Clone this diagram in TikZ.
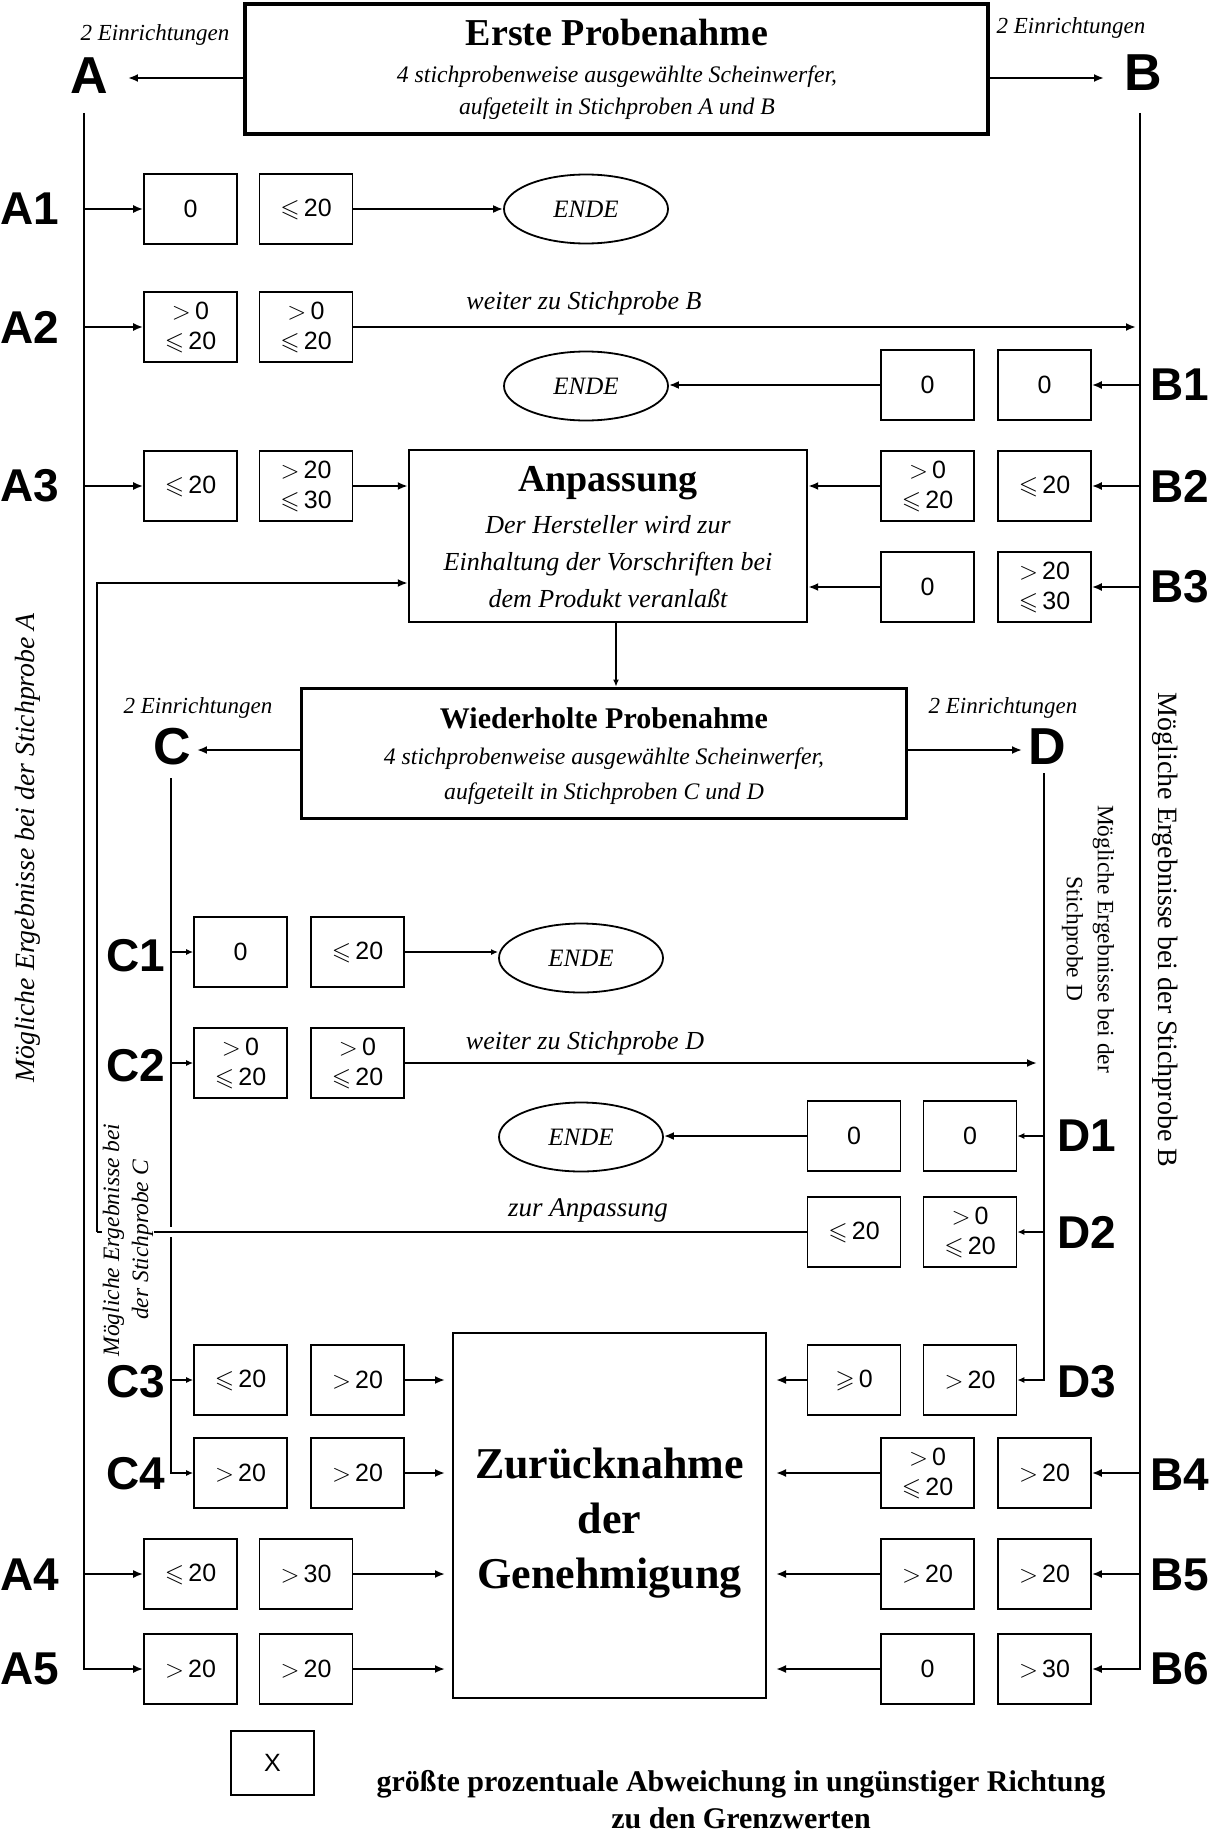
\documentclass[tikz,border=0pt]{standalone}
\usepackage{amssymb}
\usepackage{fontspec}
\setmainfont{Liberation Serif}
\setsansfont{Liberation Sans}
\usetikzlibrary{arrows.meta,shapes.geometric}
\pgfdeclarelayer{bg}
\pgfdeclarelayer{paper}
\pgfsetlayers{paper,bg,main}
\newcommand\fsz[2]{\fontsize{#1}{#2}\selectfont}
\newcommand\myle{$\leqslant$\,}
\newcommand\myge{$\geqslant$\,}
\newcommand\mygt{$>$\,}
\tikzset{
  vb/.style={draw, line width=1.6pt, minimum width=93pt, minimum height=70pt, inner sep=0pt, align=center, font=\sffamily\fsz{25}{30}},
  endnode/.style={ellipse, draw, line width=1.8pt, minimum width=164pt, minimum height=69pt, inner sep=0pt, font=\itshape\fsz{25}{30}},
  rowlab/.style={font=\sffamily\bfseries\fsz{46}{50}, inner sep=0pt},
  biglab/.style={font=\sffamily\bfseries\fsz{52}{56}, inner sep=0pt},
  einr/.style={font=\itshape\fsz{23}{28}, inner sep=0pt},
  itx/.style={font=\itshape\fsz{#1}{30}, inner sep=0pt},
  thk/.style={line width=2.4pt, -{Latex[length=10pt,width=8pt]}},
  thn/.style={line width=1.5pt, -{Latex[length=7pt,width=6pt]}},
}
\begin{document}
\begin{tikzpicture}[x=1pt,y=-1pt]
\begin{pgfonlayer}{paper}
\fill[white] (0,0) rectangle (1217,1833);
\end{pgfonlayer}
\useasboundingbox (0,0) rectangle (1217,1833);

% ---------- top ----------
\node[draw, line width=3.5pt, minimum width=743pt, minimum height=130pt, inner sep=0pt] (top) at (616.5,69) {};
\node[font=\bfseries\fsz{38}{44}, inner sep=0pt] (t1) at (617,33) {Erste Probenahme};
\node[font=\itshape\fsz{23.7}{32}, align=center, inner sep=0pt] (t2) at (617,93) {4 stichprobenweise ausgewählte Scheinwerfer,\\aufgeteilt in Stichproben A und B};
\node[biglab] (A) at (89,76) {A};
\node[biglab] (B) at (1143,73) {B};
\node[einr] (eA) at (155,35) {2 Einrichtungen};
\node[einr] (eB) at (1071,28) {2 Einrichtungen};
\coordinate (Atop) at (84,113);
\coordinate (Btop) at (1140,113);

% ---------- row labels ----------
\node[rowlab] (lA1) at (30,209) {A1};
\node[rowlab] (lA2) at (30,327) {A2};
\node[rowlab] (lA3) at (30,486) {A3};
\node[rowlab] (lA4) at (30,1575) {A4};
\node[rowlab] (lA5) at (30,1669) {A5};
\node[rowlab] (lB1) at (1180,385) {B1};
\node[rowlab] (lB2) at (1180,486) {B2};
\node[rowlab] (lB3) at (1180,587) {B3};
\node[rowlab] (lB4) at (1180,1475) {B4};
\node[rowlab] (lB5) at (1180,1575) {B5};
\node[rowlab] (lB6) at (1180,1669) {B6};
\node[rowlab] (lC1) at (136,956) {C1};
\node[rowlab] (lC2) at (136,1066) {C2};
\node[rowlab] (lC3) at (136,1382) {C3};
\node[rowlab] (lC4) at (136,1474) {C4};
\node[rowlab] (lD1) at (1087,1136) {D1};
\node[rowlab] (lD2) at (1087,1232) {D2};
\node[rowlab] (lD3) at (1087,1382) {D3};

% ---------- A boxes ----------
\node[vb] (a1l) at (190.5,209) {0};
\node[vb] (a1r) at (306,209) {\myle 20};
\node[vb] (a2l) at (190.5,327) {\mygt 0\\\myle 20};
\node[vb] (a2r) at (306,327) {\mygt 0\\\myle 20};
\node[vb] (a3l) at (190.5,486) {\myle 20};
\node[vb] (a3r) at (306,486) {\mygt 20\\\myle 30};
\node[vb] (a4l) at (190.5,1574) {\myle 20};
\node[vb] (a4r) at (306,1574) {\mygt 30};
\node[vb] (a5l) at (190.5,1669) {\mygt 20};
\node[vb] (a5r) at (306,1669) {\mygt 20};
% ---------- B boxes ----------
\node[vb] (b1l) at (927.5,385) {0};
\node[vb] (b1r) at (1044.5,385) {0};
\node[vb] (b2l) at (927.5,486) {\mygt 0\\\myle 20};
\node[vb] (b2r) at (1044.5,486) {\myle 20};
\node[vb] (b3l) at (927.5,587) {0};
\node[vb] (b3r) at (1044.5,587) {\mygt 20\\\myle 30};
\node[vb] (b4l) at (927.5,1473) {\mygt 0\\\myle 20};
\node[vb] (b4r) at (1044.5,1473) {\mygt 20};
\node[vb] (b5l) at (927.5,1574) {\mygt 20};
\node[vb] (b5r) at (1044.5,1574) {\mygt 20};
\node[vb] (b6l) at (927.5,1669) {0};
\node[vb] (b6r) at (1044.5,1669) {\mygt 30};
% ---------- C boxes ----------
\node[vb] (c1l) at (240.5,952) {0};
\node[vb] (c1r) at (357.5,952) {\myle 20};
\node[vb] (c2l) at (240.5,1063) {\mygt 0\\\myle 20};
\node[vb] (c2r) at (357.5,1063) {\mygt 0\\\myle 20};
\node[vb] (c3l) at (240.5,1380) {\myle 20};
\node[vb] (c3r) at (357.5,1380) {\mygt 20};
\node[vb] (c4l) at (240.5,1473) {\mygt 20};
\node[vb] (c4r) at (357.5,1473) {\mygt 20};
% ---------- D boxes ----------
\node[vb] (d1l) at (854,1136) {0};
\node[vb] (d1r) at (970,1136) {0};
\node[vb] (d2l) at (854,1232) {\myle 20};
\node[vb] (d2r) at (970,1232) {\mygt 0\\\myle 20};
\node[vb] (d3l) at (854,1380) {\myge 0};
\node[vb] (d3r) at (970,1380) {\mygt 20};

% ---------- ENDE ----------
\node[endnode] (e1) at (586,209) {ENDE};
\node[endnode] (e2) at (586,386) {ENDE};
\node[endnode] (e3) at (581,958) {ENDE};
\node[endnode] (e4) at (581,1137) {ENDE};

% ---------- Anpassung ----------
\node[draw, line width=2.4pt, minimum width=398pt, minimum height=172pt, inner sep=0pt] (anp) at (608,536) {};
\node[font=\bfseries\fsz{38}{44}, inner sep=0pt] (anpT) at (608,483) {Anpassung};
\node[font=\itshape\fsz{26}{37}, align=center, inner sep=0pt] (anpB) at (608,562) {Der Hersteller wird zur\\Einhaltung der Vorschriften bei\\dem Produkt veranlaßt};

% ---------- Wiederholte ----------
\node[draw, line width=3pt, minimum width=605pt, minimum height=130pt, inner sep=0pt] (wied) at (603.5,753) {};
\node[font=\bfseries\fsz{30}{36}, inner sep=0pt] (wT) at (604,718) {Wiederholte Probenahme};
\node[font=\itshape\fsz{23.7}{35}, align=center, inner sep=0pt] (wB) at (604,776) {4 stichprobenweise ausgewählte Scheinwerfer,\\aufgeteilt in Stichproben C und D};
\node[biglab] (C) at (172,747) {C};
\node[biglab] (D) at (1047,747) {D};
\node[einr] (eC) at (198,708) {2 Einrichtungen};
\node[einr] (eD) at (1003,708) {2 Einrichtungen};
\coordinate (Ctop) at (171,778);
\coordinate (Dtop) at (1044,773);

% ---------- Zuruecknahme ----------
\node[draw, line width=2pt, minimum width=313pt, minimum height=365pt, inner sep=0pt] (zur) at (609.5,1515) {};
\node[align=center, inner sep=0pt, font=\bfseries\fsz{44}{55}] (zurT) at (609.5,1523) {Zurücknahme\\der\\Genehmigung};

% ---------- rotated labels ----------
\node[rotate=90, font=\itshape\fsz{27.8}{32}, inner sep=0pt] (rA) at (28,848) {Mögliche Ergebnisse bei der Stichprobe A};
\node[rotate=-90, font=\fsz{28}{32}, inner sep=0pt] (rB) at (1165,930) {Mögliche Ergebnisse bei der Stichprobe B};
\node[rotate=-90, font=\fsz{23.4}{31}, align=center, inner sep=0pt] (rD) at (1088,939) {Mögliche Ergebnisse bei der\\Stichprobe D};
\node[rotate=90, font=\itshape\fsz{23.5}{29}, align=center, fill=white, inner sep=1pt] (rC) at (128,1240) {Mögliche Ergebnisse bei\\der Stichprobe C};

% ---------- texts on connectors ----------
\node[itx=26] (wB1) at (584,303) {weiter zu Stichprobe B};
\node[itx=26] (wD1) at (585,1043) {weiter zu Stichprobe D};
\node[itx=27] (zA) at (588,1210) {zur Anpassung};

% ---------- legend ----------
\node[draw, line width=1.6pt, minimum width=83pt, minimum height=64pt, inner sep=0pt, font=\sffamily\fsz{25}{30}] (lx) at (272.5,1763) {X};
\node[font=\bfseries\fsz{30}{37}, align=center, inner sep=0pt] (lt) at (741,1800) {größte prozentuale Abweichung in ungünstiger Richtung\\zu den Grenzwerten};

% ---------- connectors ----------
\begin{pgfonlayer}{bg}
\draw[thk, shorten >=20pt] (top.east |- 0,78) -- (B.west |- 0,78);
\draw[thk, shorten >=20pt] (top.west |- 0,78) -- (A.east |- 0,78);
% A line
\draw[thk] (Atop) |- (a5l.west);
\foreach \n in {a1l,a2l,a3l,a4l} \draw[thk] (\n.west -| Atop) -- (\n.west);
% B line
\draw[thk] (Btop) |- (b6r.east);
\foreach \n in {b1r,b2r,b3r,b4r,b5r} \draw[thk] (\n.east -| Btop) -- (\n.east);
% A rows
\draw[thk] (a1r.east) -- (a1r.east -| e1.west);
\draw[thk, line width=2.8pt, shorten >=4pt] (a2r.east) -- (a2r.east -| Btop);
\draw[thk] (a3r.east) -- (a3r.east -| anp.west);
\draw[thk] (b1l.west) -- (b1l.west -| e2.east);
\draw[thk] (b2l.west) -- (b2l.west -| anp.east);
\draw[thk] (b3l.west) -- (b3l.west -| anp.east);
\draw[thk, shorten >=7pt] (a4r.east) -- (a4r.east -| zur.west);
\draw[thk, shorten >=7pt] (a5r.east) -- (a5r.east -| zur.west);
\draw[thk, shorten >=9pt] (b4l.west) -- (b4l.west -| zur.east);
\draw[thk, shorten >=9pt] (b5l.west) -- (b5l.west -| zur.east);
\draw[thk, shorten >=9pt] (b6l.west) -- (b6l.west -| zur.east);
% Anpassung -> Wiederholte
\draw[thn, line width=1.2pt] ([xshift=8pt]anp.south) -- ([xshift=8pt]anp.south |- wied.north);
% Wiederholte -> C, D
\draw[thk, shorten >=6pt] (wied.west |- 0,750) -- (C.east |- 0,750);
\draw[thk, shorten >=6pt] (wied.east |- 0,750) -- (D.west |- 0,750);
% C line
\draw[thn, line width=1.8pt] (Ctop) |- (c4l.west);
\foreach \n in {c1l,c2l,c3l} \draw[thn] (\n.west -| Ctop) -- (\n.west);
% D line
\draw[thn, line width=1.6pt] (Dtop) |- (d3r.east);
\foreach \n in {d1r,d2r} \draw[thn] (\n.east -| Dtop) -- (\n.east);
% C / D rows
\draw[thn, line width=1.4pt] (c1r.east) -- (c1r.east -| e3.west);
\draw[thk, line width=2.6pt, shorten >=7pt] (c2r.east) -- (c2r.east -| Dtop);
\draw[thk, line width=2pt] (d1l.west) -- (d1l.west -| e4.east);
\draw[thk, shorten >=7pt] (c3r.east) -- (c3r.east -| zur.west);
\draw[thk, shorten >=7pt] (c4r.east) -- (c4r.east -| zur.west);
\draw[thk, shorten >=9pt] (d3l.west) -- (d3l.west -| zur.east);
% return to Anpassung
\coordinate (retc) at (97,583);
\draw[line width=2pt, preaction={draw=white, line width=10pt}] (d2l.west) -- (d2l.west -| retc);
\draw[thk, line width=2pt] (d2l.west -| retc) -- (retc) -- (retc -| anp.west);
\end{pgfonlayer}
\end{tikzpicture}
\end{document}
